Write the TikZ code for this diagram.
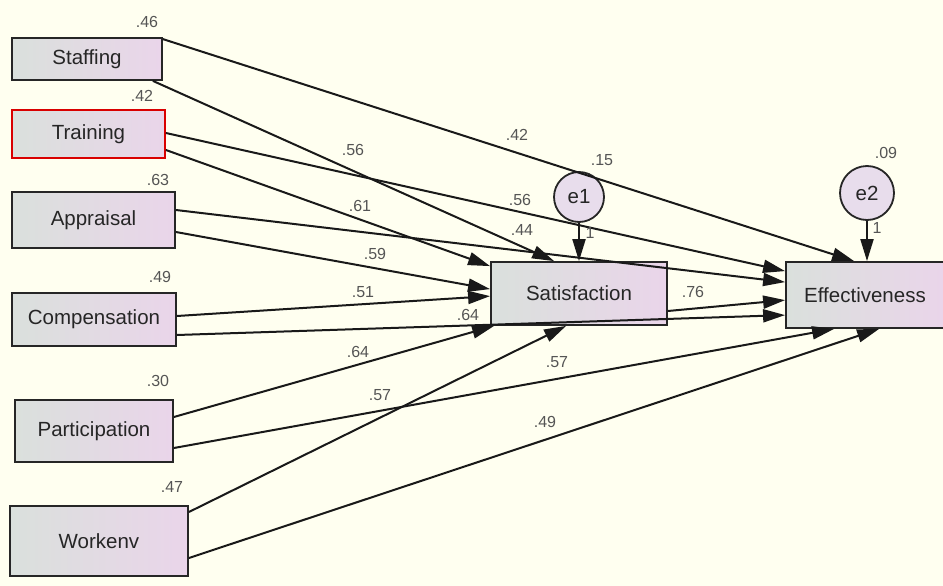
\documentclass[tikz,border=0pt]{standalone}
\usepackage{fontspec}
\setmainfont{Liberation Sans}
\usetikzlibrary{arrows.meta}
\definecolor{paper}{RGB}{255,255,240}
\definecolor{boxleft}{RGB}{218,224,220}
\definecolor{boxright}{RGB}{234,213,234}
\definecolor{errfill}{RGB}{232,221,236}
\definecolor{numgray}{RGB}{85,85,85}
\tikzset{
  var/.style={draw=black!85, line width=1.8pt, left color=boxleft, right color=boxright,
    font=\fontsize{20.5}{24}\selectfont, text=black!85, inner sep=0pt},
  err/.style={circle, draw=black!85, line width=1.8pt, fill=errfill,
    font=\fontsize{20.5}{24}\selectfont, text=black!85, inner sep=0pt},
  arr/.style={line width=2pt, black!90, -{Triangle[length=22pt,width=13pt]}},
  est/.style={font=\fontsize{16}{18}\selectfont, text=numgray, inner sep=0pt}
}
\begin{document}
\begin{tikzpicture}[x=1pt, y=-1pt]
\fill[paper] (0,0) rectangle (943,586);
\useasboundingbox (0,0) rectangle (943,586);
% observed variables
\node[var, minimum width=150pt, minimum height=42pt] (staffing) at (87,59) {Staffing};
\node[var, draw=red!85!black, minimum width=153pt, minimum height=48pt] (training) at (88.5,134) {Training};
\node[var, minimum width=163pt, minimum height=56pt] (appraisal) at (93.5,220) {Appraisal};
\node[var, minimum width=164pt, minimum height=53pt] (compensation) at (94,319.5) {Compensation};
\node[var, minimum width=158pt, minimum height=62pt] (participation) at (94,431) {Participation};
\node[var, minimum width=178pt, minimum height=70pt] (workenv) at (99,541) {Workenv};
\node[var, minimum width=176pt, minimum height=63pt] (sat) at (579,293.5) {Satisfaction};
\node[var, minimum width=158pt, minimum height=66pt] (eff) at (865,295) {Effectiveness};
% errors
\node[err, minimum size=50pt] (e1) at (579,197) {e1};
\node[err, minimum size=54pt] (e2) at (867,193) {e2};
% paths
\draw[arr] ([yshift=-2pt]staffing.north east) -- ([xshift=69pt]eff.north west);
\draw[arr] ([xshift=-10pt]staffing.south east) -- ([xshift=64pt]sat.north west);
\draw[arr] ([yshift=1pt]training.east) -- ([yshift=-10pt]eff.north west);
\draw[arr] ([yshift=-16pt]training.east) -- ([yshift=-5pt]sat.north west);
\draw[arr] ([yshift=10pt]appraisal.east) -- ([yshift=-21pt]eff.north west);
\draw[arr] ([yshift=-12pt]appraisal.east) -- ([yshift=-28pt]sat.north west);
\draw[arr] ([yshift=3.5pt]compensation.east) -- ([yshift=-35pt]sat.north west);
\draw[arr] ([yshift=-15.5pt]compensation.east) -- ([yshift=-54pt]eff.north west);
\draw[arr] ([yshift=14pt]participation.east) -- ([xshift=4pt]sat.south west);
\draw[arr] ([yshift=-17pt]participation.east) -- ([xshift=49pt]eff.south west);
\draw[arr] ([yshift=29pt]workenv.east) -- ([xshift=76pt]sat.south west);
\draw[arr] ([yshift=-17pt]workenv.east) -- ([xshift=94pt]eff.south west);
\draw[arr] ([yshift=-17.5pt]sat.east) -- ([yshift=-39pt]eff.north west);
\draw[arr] (e1.south) -- (e1.south |- sat.north);
\draw[arr] (e2.south) -- (e2.south |- eff.north);
% estimates
\foreach \x/\y/\t [count=\i] in {147/22/.46, 142/96/.42, 158/180/.63, 160/277/.49,
    158/381/.30, 172/487/.47, 517/135/.42, 602/160/.15, 353/150/.56, 360/206/.61,
    520/200/.56, 522/230/.44, 375/254/.59, 363/292/.51, 468/315/.64, 693/292/.76,
    886/153/.09, 590/233/1, 877/228/1, 358/352/.64, 380/395/.57, 557/362/.57, 545/422/.49}
  \node[est] (est\i) at (\x,\y) {\t};
\end{tikzpicture}
\end{document}
